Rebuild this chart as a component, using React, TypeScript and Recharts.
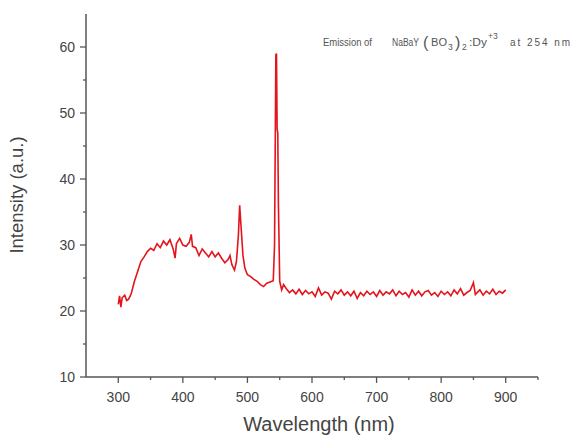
import React from 'react';
import { LineChart, Line, XAxis, YAxis } from 'recharts';

// Emission spectrum
const wavelength = [
  300, 302, 304, 306, 310, 313, 316, 320, 325, 330, 335, 340, 345, 350, 355, 360, 365, 370, 375, 380,
  385, 388, 390, 395, 400, 405, 410, 413, 415, 420, 425, 430, 435, 440, 445, 450, 455, 460, 465, 470,
  473, 476, 480, 483, 486, 488, 490, 493, 496, 500, 505, 510, 515, 520, 525, 530, 535, 540, 542, 544,
  545, 546, 547, 548, 550, 553, 556, 560, 565, 570, 575, 580, 585, 590, 595, 600, 605, 610, 615, 620,
  625, 630, 635, 640, 645, 650, 655, 660, 665, 670, 675, 680, 685, 690, 695, 700, 705, 710, 715, 720,
  725, 730, 735, 740, 745, 750, 755, 760, 765, 770, 775, 780, 785, 790, 795, 800, 805, 810, 815, 820,
  825, 830, 835, 840, 845, 850, 853, 855, 860, 865, 870, 875, 880, 885, 890, 895, 900,
];
const intensity = [
  21.0, 22.3, 20.6, 22.0, 22.4, 21.6, 21.8, 22.6, 24.5, 26.0, 27.5, 28.2, 29.0, 29.5, 29.2, 30.2, 29.6, 30.6, 30.0, 30.8,
  29.4, 28.0, 30.2, 31.0, 30.0, 29.8, 30.4, 31.6, 29.8, 29.6, 28.4, 29.4, 28.8, 28.2, 29.0, 28.2, 28.8, 28.0, 27.3, 27.8,
  28.4, 27.0, 26.2, 27.5, 31.5, 36.0, 33.0, 28.5, 26.5, 25.5, 25.2, 24.8, 24.5, 24.0, 23.7, 24.2, 24.4, 24.6, 30.0, 58.8,
  59.0, 47.5, 47.0, 36.0, 24.5, 23.2, 24.0, 23.4, 22.8, 23.2, 22.6, 23.3, 22.5, 23.1, 22.6, 22.9, 22.2, 23.5, 22.4, 22.9,
  22.7, 21.8, 23.0, 22.6, 23.2, 22.4, 22.9, 22.3, 23.0, 21.9, 22.8, 22.3, 23.0, 22.5, 22.9, 22.2, 23.1, 22.4, 22.9, 22.6,
  23.2, 22.3, 23.0, 22.5, 22.8, 22.1, 23.2, 22.4, 23.0, 22.3, 22.9, 23.1, 22.4, 22.8, 22.2, 23.0, 22.5, 22.9, 22.3, 23.2,
  22.6, 23.4, 22.4, 22.8, 23.1, 24.3, 22.5, 22.7, 23.2, 22.4, 23.0, 22.6, 23.3, 22.5, 23.0, 22.7, 23.2,
];

const xTicks = [300, 350, 400, 450, 500, 550, 600, 650, 700, 750, 800, 850, 900, 950];
const yTicks = [10, 15, 20, 25, 30, 35, 40, 45, 50, 55, 60];

const data = wavelength.map((w, i) => ({ w, v: intensity[i] }));

const axisColor = '#555';
const textColor = '#444';

const XTick = (props: any) => {
  const { x, y, payload } = props;
  const major = payload.value % 100 === 0;
  return (
    <g>
      <line x1={x} x2={x} y1={y} y2={y + (major ? 6 : 3)} stroke={axisColor} strokeWidth={1.3} />
      {major && (
        <text x={x} y={y + 25} textAnchor="middle" fontSize={14} fill={textColor} fontFamily="Liberation Sans, Arial, sans-serif">
          {payload.value}
        </text>
      )}
    </g>
  );
};

const YTick = (props: any) => {
  const { x, y, payload } = props;
  const major = payload.value % 10 === 0;
  return (
    <g>
      <line x1={x - (major ? 6 : 3)} x2={x} y1={y} y2={y} stroke={axisColor} strokeWidth={1.3} />
      {major && (
        <text x={x - 11} y={y + 5} textAnchor="end" fontSize={14} fill={textColor} fontFamily="Liberation Sans, Arial, sans-serif">
          {payload.value}
        </text>
      )}
    </g>
  );
};

export default function App() {
  return (
    <div style={{ position: 'absolute', left: 0, top: 0, width: 571, height: 435, background: '#fff', fontFamily: 'Liberation Sans, Arial, sans-serif' }}>
      <LineChart width={571} height={435} data={data} margin={{ top: 14, right: 33, bottom: 0, left: 26 }}>
        <XAxis
          dataKey="w"
          type="number"
          domain={[250, 950]}
          ticks={xTicks}
          tick={<XTick />}
          tickSize={0}
          tickMargin={0}
          tickLine={false}
          height={58}
          axisLine={{ stroke: axisColor, strokeWidth: 1.5 }}
          allowDataOverflow
        />
        <YAxis
          type="number"
          domain={[10, 65]}
          ticks={yTicks}
          tick={<YTick />}
          tickSize={0}
          tickMargin={0}
          tickLine={false}
          width={60}
          axisLine={{ stroke: axisColor, strokeWidth: 1.5 }}
          allowDataOverflow
        />
        <Line
          dataKey="v"
          type="linear"
          stroke="#e3141c"
          strokeWidth={1.6}
          dot={false}
          isAnimationActive={false}
        />
      </LineChart>
      <svg width={571} height={435} style={{ position: 'absolute', left: 0, top: 0, pointerEvents: 'none' }}>
        <text x={23} y={195} transform="rotate(-90 23 195)" textAnchor="middle" fontSize={18.5} fill={textColor}>
          Intensity (a.u.)
        </text>
        <text x={319} y={431} textAnchor="middle" fontSize={20} fill={textColor}>
          Wavelength (nm)
        </text>
        <g fill="#555" fontSize={10}>
          <text x={323} y={46} textLength={49} lengthAdjust="spacingAndGlyphs">Emission of</text>
          <text x={392} y={46} textLength={27} lengthAdjust="spacingAndGlyphs">NaBaY</text>
          <text x={423} y={48} fontSize={16}>(</text>
          <text x={431} y={46} textLength={16} lengthAdjust="spacingAndGlyphs">BO</text>
          <text x={448} y={50} fontSize={8.5}>3</text>
          <text x={455} y={48} fontSize={16}>)</text>
          <text x={462} y={50} fontSize={8.5}>2</text>
          <text x={469} y={46} textLength={18} lengthAdjust="spacingAndGlyphs">:Dy</text>
          <text x={488} y={39} fontSize={8.5}>+3</text>
          <text x={510} y={46} textLength={60} lengthAdjust="spacing">at 254 nm</text>
        </g>
      </svg>
    </div>
  );
}
